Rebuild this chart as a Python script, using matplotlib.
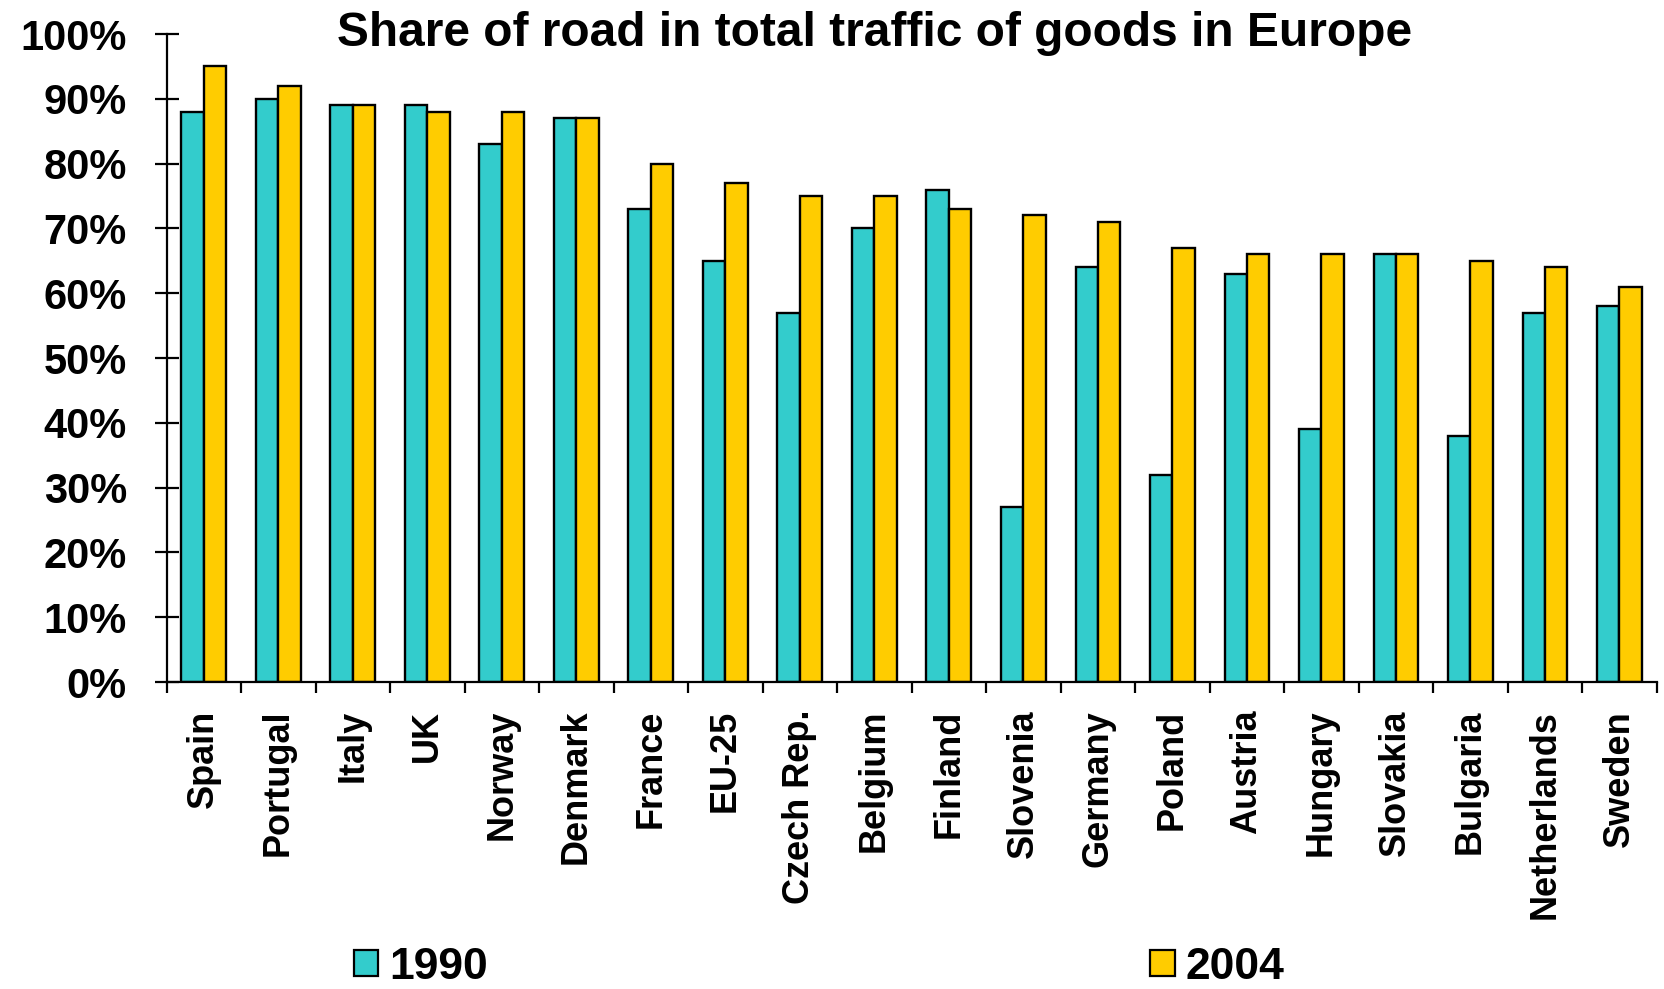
import numpy as np
import matplotlib.pyplot as plt
from matplotlib.patches import Patch

plt.rcParams['font.family'] = ['Liberation Sans', 'DejaVu Sans']
plt.rcParams['font.weight'] = 'bold'

# road share of goods traffic, per country
countries = ['Spain', 'Portugal', 'Italy', 'UK', 'Norway', 'Denmark', 'France',
             'EU-25', 'Czech Rep.', 'Belgium', 'Finland', 'Slovenia', 'Germany',
             'Poland', 'Austria', 'Hungary', 'Slovakia', 'Bulgaria', 'Netherlands',
             'Sweden']
share_1990 = [88, 90, 89, 89, 83, 87, 73, 65, 57, 70, 76, 27, 64, 32, 63, 39, 66, 38, 57, 58]
share_2004 = [95, 92, 89, 88, 88, 87, 80, 77, 75, 75, 73, 72, 71, 67, 66, 66, 66, 65, 64, 61]
years = ['1990', '2004']
colors = ['#33CCCC', '#FFCC00']

fig = plt.figure(figsize=(16.65, 9.89), dpi=100)
ax = fig.add_axes([0.1, 0.3104, 0.895, 0.6552])

x = np.arange(len(countries)) + 0.5
w = 0.3
ax.bar(x - w / 2, share_1990, w, color=colors[0], edgecolor='black', linewidth=1.7)
ax.bar(x + w / 2, share_2004, w, color=colors[1], edgecolor='black', linewidth=1.7)

ax.set_xlim(0, len(countries))
ax.set_ylim(0, 100)

ax.set_yticks(np.arange(0, 101, 10))
ax.set_yticklabels([f'{v}%' for v in range(0, 101, 10)], fontsize=30, fontweight='bold')
ax.tick_params(axis='y', direction='inout', length=17, width=1.6, pad=20)

ax.set_xticks(x)
ax.set_xticklabels(countries, rotation=90, fontsize=26, fontweight='bold', va='top')
ax.tick_params(axis='x', which='major', length=0, pad=20)
ax.set_xticks(np.arange(0, len(countries) + 1), minor=True)
ax.tick_params(axis='x', which='minor', direction='out', length=8, width=1.6)

for side in ['top', 'right']:
    ax.spines[side].set_visible(False)
for side in ['left', 'bottom']:
    ax.spines[side].set_linewidth(1.6)

fig.text(0.525, 0.966, 'Share of road in total traffic of goods in Europe',
         ha='center', va='center', fontsize=34.5, fontweight='bold')

handles = [Patch(facecolor=c, edgecolor='black', linewidth=1.6) for c in colors]
fig.legend(handles, years, loc='center left', bbox_to_anchor=(0.2125, 0.022),
           ncol=2, frameon=False, fontsize=32, handlelength=0.55, handleheight=0.5,
           handletextpad=0.25, columnspacing=14.9, borderpad=0, borderaxespad=0)

fig.savefig('out.png', dpi=100)
